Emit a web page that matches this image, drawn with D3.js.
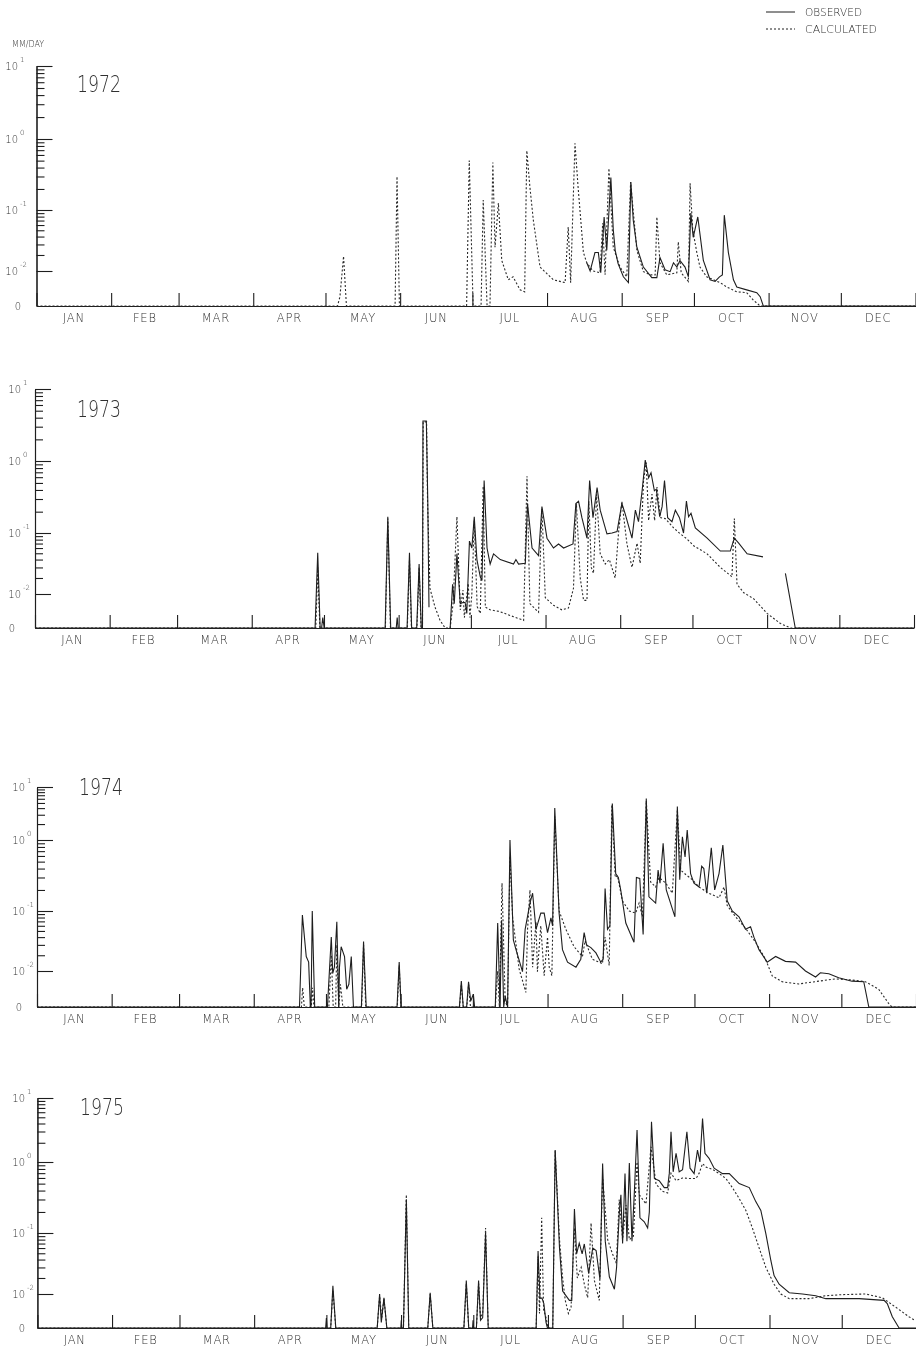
<!DOCTYPE html>
<html>
<head>
<meta charset="utf-8">
<script src="https://cdn.jsdelivr.net/npm/d3@7"></script>
<style>
  body { margin: 0; background: #fff; }
  #chart { filter: grayscale(1); }
  svg text { font-family: "DejaVu Sans", sans-serif; font-weight: 200; fill: #303030; }
</style>
</head>
<body>
<svg id="chart" width="916" height="1350"></svg>
<script>
// ---- axis vocabulary ----
const monthNames = ["JAN","FEB","MAR","APR","MAY","JUN","JUL","AUG","SEP","OCT","NOV","DEC"];
const monthStarts = [0,31,59,90,120,151,181,212,243,273,304,334,365];
const yMajorValues = [0.01, 0.1, 1, 10];
const yMajorLabels = [["10","-2"],["10","-1"],["10","0"],["10","1"]];
const yMinorValues = [-2,-1,0].flatMap(k => d3.range(2,10).map(m => +(m * Math.pow(10,k)).toPrecision(3)));
const years = ["1972","1973","1974","1975"];

// ---- daily runoff, mm/day: [day of year, value] ----
const obs1972 = [[228.5,0.0145],[229.9,0.010],[231.9,0.022],[233.3,0.022],[234.3,0.0092],[235.7,0.079],[236.8,0.024],[238.5,0.29],[239.5,0.051],[240.3,0.024],[241.5,0.014],[243.7,0.0075],[245.8,0.0054],[246.8,0.25],[247.8,0.071],[249.3,0.027],[252.0,0.012],[255.5,0.0072],[257.6,0.0072],[258.9,0.018],[261.0,0.0106],[263.1,0.0097],[264.5,0.0145],[265.9,0.012],[267.2,0.016],[269.3,0.012],[270.7,0.0075],[271.7,0.090],[272.7,0.039],[274.6,0.079],[276.9,0.016],[279.7,0.0064],[281.8,0.0058],[283.6,0.0075],[284.8,0.0083],[285.6,0.084],[287.3,0.022],[289.4,0.0064],[290.8,0.0041],[294.9,0.0033],[299.1,0.0026],[300.5,0.0017],[301.8,0],[365,0]];
const calc1972 = [[0,0],[125,0],[126,0.0017],[127.5,0.019],[128.7,0],[148.9,0],[149.7,0.30],[150.7,0],[178.6,0],[179.7,0.50],[181.3,0],[184.6,0],[185.5,0.139],[187.1,0],[188.3,0],[189.5,0.47],[190.4,0.027],[191.8,0.126],[193.2,0.016],[195.9,0.0064],[197.9,0.0075],[200.8,0.0033],[202.7,0.0028],[203.6,0.69],[204.9,0.21],[206.3,0.071],[209.1,0.012],[214.6,0.0064],[219.5,0.0054],[220.8,0.056],[221.8,0.0054],[223.6,0.87],[224.9,0.21],[227.1,0.022],[228.5,0.0145],[231.1,0.010],[234.0,0.0092],[235.1,0.064],[236.1,0.0083],[237.7,0.39],[239.5,0.027],[242.3,0.012],[245.1,0.0075],[246.7,0.25],[249.3,0.024],[252.0,0.0097],[254.8,0.0083],[256.9,0.0083],[257.6,0.079],[258.9,0.0145],[261.7,0.0083],[265.9,0.0092],[266.5,0.033],[267.7,0.0092],[270.7,0.0058],[271.4,0.24],[272.5,0.051],[274.2,0.022],[275.5,0.012],[278.3,0.0075],[283.9,0.0054],[286.6,0.0041],[290.8,0.0028],[294.9,0.0026],[297.7,0.001],[300.5,0],[365,0]];

const obs1973 = [[0,0],[116.3,0],[117.4,0.051],[118.4,0],[119.0,0],[119.5,0.002],[120.1,0],[145.4,0],[146.5,0.17],[147.7,0],[150.0,0],[150.4,0.002],[150.8,0],[154.5,0],[155.5,0.051],[156.4,0],[158.5,0],[159.5,0.034],[160.4,0],[160.9,0],[161.1,3.6],[162.5,3.6],[163.1,0.28],[163.6,0.0048],[163.7,null],[172.4,0],[173.4,0.0155],[174.1,0.006],[175.2,0.049],[176.6,0.006],[177.7,0.0064],[178.6,0.0064],[179.3,0.003],[180.4,0.076],[181.4,0.06],[182.4,0.17],[183.5,0.04],[184.9,0.021],[185.6,0.018],[186.5,0.54],[187.7,0.06],[189.0,0.034],[190.4,0.049],[193.2,0.04],[198.7,0.034],[199.7,0.04],[200.8,0.034],[203.6,0.035],[204.5,0.26],[206.4,0.06],[209.1,0.046],[210.5,0.235],[212.6,0.084],[215.3,0.06],[217.4,0.069],[219.5,0.06],[223.4,0.069],[224.6,0.26],[225.7,0.28],[227.1,0.165],[229.2,0.084],[230.3,0.54],[231.7,0.165],[233.4,0.43],[234.7,0.21],[237.5,0.097],[239.6,0.1],[241.7,0.105],[243.7,0.26],[245.1,0.185],[247.9,0.084],[249.3,0.21],[250.6,0.145],[252.1,0.39],[253.4,1.03],[254.8,0.59],[255.8,0.69],[257.2,0.39],[258.0,0.41],[259.4,0.17],[260.4,0.235],[261.4,0.54],[262.7,0.165],[264.5,0.145],[265.9,0.21],[267.6,0.165],[269.3,0.1],[270.5,0.28],[271.4,0.17],[272.4,0.19],[274.2,0.118],[279.1,0.084],[284.6,0.054],[288.7,0.054],[290.4,0.084],[292.2,0.071],[295.7,0.049],[302.3,0.044],[302.4,null],[311.6,0.024],[315.7,0],[365,0]];
const calc1973 = [[0,0],[116.6,0],[117.4,0.03],[118.3,0],[145.5,0],[146.5,0.16],[147.6,0],[154.6,0],[155.5,0.04],[156.3,0],[158.6,0],[159.5,0.03],[160.3,0],[160.9,0],[161.2,3.5],[162.6,3.5],[163.0,0.28],[164.0,0.013],[166.1,0.0048],[168.2,0.0014],[170.3,0],[172.4,0],[173.6,0.006],[175.2,0.17],[176.6,0.004],[177.7,0.012],[178.3,0.002],[179.9,0.016],[180.6,0.002],[181.4,0.01],[182.4,0.15],[183.6,0.005],[184.9,0.003],[186.1,0.45],[187.0,0.0048],[189.0,0.004],[193.0,0.0035],[198.7,0.0022],[202.9,0.0014],[204.3,0.62],[205.5,0.006],[209.1,0.0033],[210.5,0.22],[211.9,0.0083],[215.3,0.0054],[218.8,0.004],[221.5,0.0045],[223.6,0.013],[224.8,0.26],[226.4,0.02],[227.8,0.0072],[229.2,0.0072],[230.0,0.28],[231.0,0.03],[231.9,0.024],[233.2,0.35],[234.7,0.049],[236.8,0.034],[238.5,0.04],[240.9,0.02],[242.3,0.1],[243.7,0.28],[245.8,0.069],[247.9,0.03],[250.0,0.071],[251.3,0.035],[252.7,0.54],[253.8,0.95],[254.8,0.15],[256.2,0.35],[257.3,0.15],[258.3,0.44],[259.7,0.165],[261.7,0.16],[265.2,0.118],[268.0,0.097],[270.7,0.082],[273.5,0.065],[279.1,0.049],[284.6,0.03],[289.4,0.021],[290.4,0.16],[291.5,0.0155],[294.3,0.0106],[298.4,0.0079],[304.0,0.003],[309.5,0.0008],[313.7,0],[365,0]];

const obs1974 = [[0,0],[109.0,0],[110.2,0.087],[111.8,0.019],[112.8,0.015],[113.5,0],[113.8,0],[114.3,0.1],[115.3,0],[120.6,0],[122.2,0.04],[122.8,0.009],[123.5,0.012],[124.5,0.069],[125.3,0],[125.6,0.012],[126.3,0.028],[127.7,0.019],[128.6,0.0036],[129.5,0.005],[130.5,0.019],[131.4,0],[134.7,0],[135.6,0.034],[136.7,0],[149.5,0],[150.4,0.015],[151.2,0],[175.4,0],[176.2,0.006],[177.0,0],[178.4,0],[179.2,0.0058],[180.1,0.001],[181.2,0.0024],[181.7,0],[190.3,0],[191.3,0.066],[192.3,0],[192.9,0.073],[193.8,0],[194.4,0.002],[195.4,0],[196.4,1.0],[197.8,0.036],[198.9,0.025],[201.6,0.0097],[202.7,0.053],[204.7,0.13],[205.8,0.18],[207.2,0.053],[209.2,0.093],[210.6,0.093],[212.0,0.047],[213.4,0.079],[214.1,0.06],[215.0,4.0],[216.8,0.093],[218.2,0.025],[220.3,0.015],[223.8,0.012],[225.8,0.017],[227.2,0.047],[228.2,0.03],[230.0,0.027],[232.1,0.022],[234.1,0.015],[235.1,0.017],[235.9,0.21],[236.9,0.053],[237.9,0.06],[238.9,4.9],[240.3,0.34],[241.4,0.3],[242.4,0.2],[244.5,0.066],[247.9,0.033],[248.9,0.3],[250.3,0.29],[251.7,0.044],[253.0,6.1],[254.1,0.16],[256.9,0.13],[257.9,0.38],[258.7,0.25],[260.0,0.9],[261.3,0.2],[264.9,0.082],[265.9,4.3],[266.9,0.28],[268.0,1.15],[269.1,0.58],[270.0,1.55],[271.4,0.34],[272.8,0.25],[274.9,0.22],[276.0,0.43],[276.9,0.4],[278.1,0.18],[280.0,0.78],[281.4,0.2],[283.2,0.34],[284.8,0.85],[286.6,0.14],[288.7,0.1],[291.5,0.082],[294.2,0.053],[296.3,0.058],[297.7,0.04],[299.8,0.025],[303.2,0.015],[306.7,0.019],[310.8,0.0155],[315.0,0.015],[319.1,0.01],[323.3,0.0075],[325.3,0.0092],[328.8,0.0088],[332.9,0.0072],[338.4,0.006],[343.3,0.0058],[345.4,0],[365,0]];
const calc1974 = [[0,0],[109.8,0],[110.3,0.004],[111.0,0],[113.9,0],[114.4,0.004],[115.0,0],[121.2,0],[122.2,0.02],[123.0,0],[124.0,0],[124.5,0.03],[125.3,0],[126.0,0.005],[127.0,0],[134.8,0],[135.6,0.03],[136.5,0],[149.6,0],[150.4,0.013],[151.1,0],[175.5,0],[176.2,0.005],[177.0,0],[178.5,0],[179.2,0.005],[180.0,0],[190.3,0],[191.3,0.01],[192.0,0],[193.1,0.25],[194.4,0.001],[195.4,0],[196.4,0.6],[197.5,0.08],[200.2,0.011],[203.0,0.0028],[203.7,0.053],[204.7,0.2],[205.8,0.012],[207.2,0.069],[207.8,0.0097],[209.2,0.06],[210.6,0.008],[212.0,0.04],[212.7,0.012],[213.8,0.008],[215.0,2.8],[216.8,0.1],[219.6,0.053],[223.0,0.028],[226.5,0.019],[227.6,0.035],[230.6,0.017],[234.8,0.014],[235.9,0.04],[237.6,0.013],[238.7,4.6],[240.1,0.3],[241.0,0.32],[243.1,0.14],[245.9,0.1],[248.6,0.093],[250.0,0.13],[251.4,0.082],[253.0,5.5],[254.8,0.26],[256.9,0.22],[258.3,0.3],[261.1,0.25],[263.8,0.18],[265.9,3.7],[267.3,0.38],[269.4,0.33],[272.1,0.28],[274.9,0.22],[279.0,0.18],[283.2,0.155],[285.3,0.22],[286.6,0.12],[290.1,0.082],[294.2,0.055],[298.4,0.033],[302.5,0.017],[305.3,0.0079],[309.4,0.0058],[316.3,0.0051],[324.6,0.006],[331.5,0.0068],[338.4,0.0064],[344.0,0.0058],[349.5,0.0036],[353.6,0.0006],[355.0,0],[365,0]];

const obs1975 = [[0,0],[119.7,0],[120.0,0.0019],[120.3,0],[121.8,0],[122.7,0.0145],[123.9,0],[141.1,0],[142.1,0.01],[142.8,0.001],[143.9,0.0083],[145.1,0],[150.9,0],[151.1,0.0014],[151.3,0],[152.0,0],[153.2,0.3],[154.2,0],[162.1,0],[163.1,0.0106],[164.2,0],[177.1,0],[178.1,0.018],[179.1,0],[180.7,0],[180.9,0.0014],[181.1,0],[182.3,0],[183.2,0.018],[184.0,0.0014],[184.9,0.002],[186.1,0.1],[187.2,0],[207.1,0],[207.9,0.054],[208.7,0.008],[209.5,0.0082],[210.3,0.006],[211.2,0.001],[211.8,0],[214.0,0],[215.0,1.54],[216.8,0.06],[218.1,0.0115],[220.9,0.0072],[221.9,0.0072],[223.0,0.22],[223.9,0.049],[225.0,0.071],[226.2,0.049],[227.1,0.069],[228.9,0.024],[230.6,0.06],[232.0,0.055],[233.6,0.019],[234.7,0.95],[235.8,0.076],[237.5,0.021],[239.6,0.0125],[240.5,0.03],[241.6,0.185],[242.3,0.35],[243.0,0.07],[244.0,0.69],[244.8,0.076],[245.8,0.97],[246.9,0.076],[247.9,0.39],[249.0,3.16],[250.2,0.165],[252.0,0.145],[253.4,0.118],[254.1,0.2],[255.0,4.26],[256.2,0.59],[258.2,0.55],[260.3,0.44],[261.7,0.44],[262.4,0.7],[263.1,2.97],[264.0,0.73],[265.2,1.37],[266.5,0.73],[267.9,0.78],[269.7,2.97],[271.0,0.82],[272.7,0.69],[274.1,1.54],[275.1,1.0],[276.2,4.8],[277.2,1.37],[278.9,1.14],[281.0,0.82],[284.5,0.69],[287.3,0.69],[291.4,0.5],[295.6,0.44],[298.3,0.28],[300.4,0.21],[302.5,0.097],[304.6,0.038],[305.9,0.022],[308.0,0.0155],[312.2,0.0106],[317.7,0.01],[323.2,0.0092],[327.4,0.0079],[341.2,0.0079],[351.6,0.0072],[352.9,0.006],[355.0,0.0022],[357.8,0],[365,0]];
const calc1975 = [[0,0],[121.8,0],[122.7,0.012],[123.9,0],[141.1,0],[142.1,0.009],[143.0,0.002],[143.9,0.008],[145.1,0],[152.0,0],[153.2,0.35],[154.2,0],[162.1,0],[163.1,0.01],[164.2,0],[177.1,0],[178.1,0.016],[179.1,0],[182.3,0],[183.2,0.016],[184.0,0.002],[184.9,0.003],[186.1,0.118],[187.2,0],[207.1,0],[207.9,0.045],[208.5,0.003],[209.4,0.165],[210.2,0.004],[211.2,0.002],[212.0,0],[214.0,0],[215.0,1.5],[216.8,0.08],[218.1,0.02],[219.2,0.0072],[220.5,0.003],[221.6,0.0048],[223.0,0.118],[224.2,0.02],[225.8,0.03],[227.1,0.0155],[228.5,0.0083],[229.9,0.139],[231.3,0.018],[233.3,0.0072],[234.7,0.6],[236.8,0.08],[238.8,0.049],[240.4,0.035],[241.6,0.3],[243.0,0.08],[244.4,0.25],[245.8,0.08],[247.5,0.09],[249.0,1.0],[249.9,0.35],[252.7,0.26],[254.8,1.73],[256.9,0.49],[259.6,0.39],[261.7,0.37],[263.1,0.7],[265.2,0.55],[267.9,0.6],[270.7,0.59],[273.5,0.59],[274.8,0.7],[276.2,0.95],[277.6,0.85],[280.3,0.79],[283.1,0.69],[285.9,0.59],[288.6,0.44],[291.4,0.31],[294.2,0.21],[296.9,0.118],[299.7,0.06],[302.5,0.03],[305.9,0.0155],[308.7,0.01],[312.2,0.0079],[320.4,0.0079],[327.4,0.0092],[334.2,0.0097],[343.9,0.01],[350.8,0.0083],[356.4,0.0048],[361.9,0.0022],[364.4,0.0014]];

const observedSeries = [obs1972, obs1973, obs1974, obs1975];
const calculatedSeries = [calc1972, calc1973, calc1974, calc1975];

// ---- page layout (pixels) ----
const layout = [
  { x0: 36.5, yPix: [306, 271, 210, 139, 66],      labelX: 18, zeroX: 18, yearX: 77, yearY: 92 },
  { x0: 35.0, yPix: [628, 594, 533, 461, 389],     labelX: 21, zeroX: 12, yearX: 77, yearY: 417 },
  { x0: 37.0, yPix: [1007, 971, 911, 840, 787],    labelX: 25, zeroX: 19, yearX: 79, yearY: 795 },
  { x0: 37.4, yPix: [1328, 1294, 1233, 1162, 1098], labelX: 25, zeroX: 22, yearX: 80, yearY: 1115 }
];
const plotWidth = 879;

const svg = d3.select("#chart");
const ink = "#1e1e1e";

years.forEach((year, i) => {
  const L = layout[i];
  const x = d3.scaleLinear().domain([0, 365]).range([L.x0, L.x0 + plotWidth]);
  const y = d3.scaleSymlog().constant(0.005).domain([0, 0.01, 0.1, 1, 10]).range(L.yPix);
  const yb = L.yPix[0];
  const g = svg.append("g");

  // y axis: minor and major ticks pointing inward
  const minorAxis = d3.axisRight(y).tickValues(yMinorValues).tickSize(8).tickSizeOuter(0).tickFormat("");
  const majorAxis = d3.axisRight(y).tickValues(yMajorValues).tickSize(16).tickSizeOuter(0).tickFormat("");
  [minorAxis, majorAxis].forEach(ax => {
    const a = g.append("g").attr("transform", `translate(${L.x0},0)`).call(ax);
    a.selectAll("path,line").attr("stroke", ink).attr("stroke-width", 1.1);
  });

  // x axis with month boundary ticks
  const xa = g.append("g").attr("transform", `translate(0,${yb})`)
    .call(d3.axisTop(x).tickValues(monthStarts).tickSize(13).tickSizeOuter(0).tickFormat(""));
  xa.selectAll("path,line").attr("stroke", ink).attr("stroke-width", 1.1);

  // month names centred in each month
  g.selectAll(".mon").data(monthNames).join("text")
    .attr("x", (d, k) => x((monthStarts[k] + monthStarts[k + 1]) / 2))
    .attr("y", yb + 16)
    .attr("text-anchor", "middle")
    .attr("font-size", 11.5)
    .attr("letter-spacing", 0.8)
    .text(d => d);

  // y tick labels: powers of ten and zero
  yMajorValues.forEach((v, k) => {
    g.append("text").attr("x", L.labelX).attr("y", y(v) + 4)
      .attr("text-anchor", "end").attr("font-size", 10).text(yMajorLabels[k][0]);
    g.append("text").attr("x", L.labelX + 2).attr("y", y(v) - 4)
      .attr("font-size", 7).text(yMajorLabels[k][1]);
  });
  g.append("text").attr("x", L.zeroX).attr("y", yb + 4).attr("text-anchor", "middle")
    .attr("font-size", 10).text("0");

  // year caption
  g.append("text").attr("x", L.yearX).attr("y", L.yearY)
    .attr("font-size", 23).attr("textLength", 44).attr("lengthAdjust", "spacingAndGlyphs")
    .text(year);

  const line = d3.line().defined(d => d[1] != null).x(d => x(d[0])).y(d => y(d[1]));

  g.append("path").datum(calculatedSeries[i]).attr("d", line)
    .attr("fill", "none").attr("stroke", "#2a2a2a").attr("stroke-width", 1.1)
    .attr("stroke-dasharray", "2,2");
  g.append("path").datum(observedSeries[i]).attr("d", line)
    .attr("fill", "none").attr("stroke", ink).attr("stroke-width", 1.1);
});

// unit caption
svg.append("text").attr("x", 12).attr("y", 47).attr("font-size", 8).text("MM/DAY");

// legend
const legend = svg.append("g");
legend.append("line").attr("x1", 766).attr("x2", 795).attr("y1", 12).attr("y2", 12)
  .attr("stroke", ink).attr("stroke-width", 1);
legend.append("line").attr("x1", 766).attr("x2", 795).attr("y1", 29).attr("y2", 29)
  .attr("stroke", ink).attr("stroke-width", 1).attr("stroke-dasharray", "2,2");
legend.append("text").attr("x", 805).attr("y", 16).attr("font-size", 10.5)
  .attr("textLength", 57).attr("lengthAdjust", "spacingAndGlyphs").text("OBSERVED");
legend.append("text").attr("x", 805).attr("y", 33).attr("font-size", 10.5)
  .attr("textLength", 72).attr("lengthAdjust", "spacingAndGlyphs").text("CALCULATED");
</script>
</body>
</html>
